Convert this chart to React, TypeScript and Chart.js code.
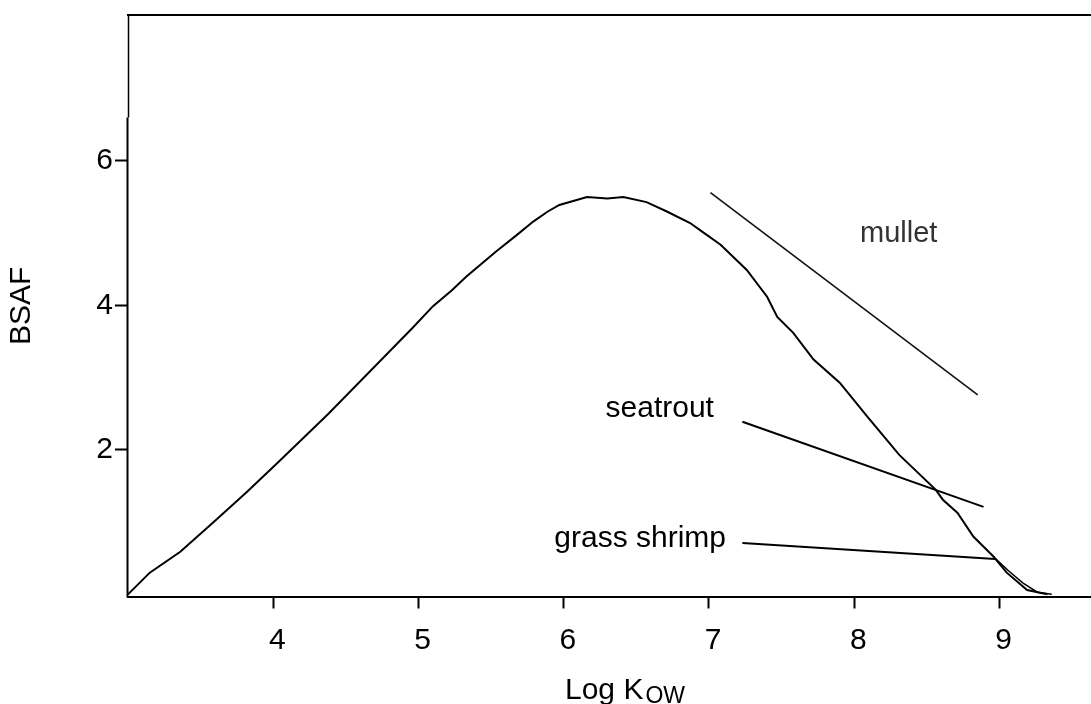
import React, { useEffect, useRef } from 'react';
import { Chart, registerables } from 'chart.js';

Chart.register(...registerables);

// ---- data ----
const xTickValues = [4, 5, 6, 7, 8, 9];
const yTickValues = [2, 4, 6];

const curveX = [3.0, 3.15, 3.36, 3.59, 3.82, 4.05, 4.38, 4.96, 5.1, 5.23, 5.33, 5.53, 5.68, 5.79, 5.89, 5.97, 6.16, 6.3, 6.41, 6.57, 6.71, 6.87, 6.96, 7.08, 7.26, 7.4, 7.47, 7.58, 7.72, 7.9, 8.09, 8.31, 8.56, 8.61, 8.71, 8.82, 8.96, 9.05, 9.19, 9.33];
const curveY = [0.0, 0.3, 0.59, 1.0, 1.42, 1.86, 2.5, 3.69, 3.99, 4.21, 4.4, 4.74, 4.98, 5.16, 5.3, 5.39, 5.5, 5.48, 5.5, 5.43, 5.3, 5.14, 5.01, 4.84, 4.49, 4.12, 3.84, 3.62, 3.25, 2.93, 2.46, 1.93, 1.45, 1.31, 1.13, 0.8, 0.52, 0.3, 0.06, 0.0];

const tailX = [8.97, 9.06, 9.16, 9.26, 9.36];
const tailY = [0.5, 0.33, 0.16, 0.03, 0.0];

const mulletX = [7.01, 8.85];
const mulletY = [5.56, 2.76];

const seatroutX = [7.23, 8.89];
const seatroutY = [2.39, 1.21];

const shrimpX = [7.23, 8.97];
const shrimpY = [0.71, 0.49];

const seriesLabels = ['mullet', 'seatrout', 'grass shrimp'];
const xTitle = 'Log K';
const xTitleSub = 'OW';
const yTitle = 'BSAF';

const FONT = '"Liberation Sans", Arial, Helvetica, sans-serif';

const pts = (xs: number[], ys: number[]) => xs.map((x, i) => ({ x, y: ys[i] }));

const framePlugin = {
  id: 'frame',
  afterDraw(chart: any) {
    const { ctx, chartArea, scales } = chart;
    const xs = scales.x;
    const ys = scales.y;
    ctx.save();
    ctx.strokeStyle = '#000';
    // top frame line
    ctx.lineWidth = 2;
    ctx.beginPath();
    ctx.moveTo(chartArea.left - 1, chartArea.top);
    ctx.lineTo(chartArea.right, chartArea.top);
    ctx.stroke();
    // thin upper part of left line
    const yBreak = ys.getPixelForValue(6.6);
    ctx.lineWidth = 1.5;
    ctx.beginPath();
    ctx.moveTo(chartArea.left + 0.5, chartArea.top);
    ctx.lineTo(chartArea.left + 0.5, yBreak);
    ctx.stroke();
    // thick y axis line
    ctx.lineWidth = 2;
    ctx.beginPath();
    ctx.moveTo(chartArea.left - 0.5, yBreak);
    ctx.lineTo(chartArea.left - 0.5, chartArea.bottom + 1);
    ctx.stroke();

    // annotations
    ctx.font = `29px ${FONT}`;
    ctx.fillStyle = '#333';
    ctx.textAlign = 'left';
    ctx.textBaseline = 'alphabetic';
    ctx.fillText(seriesLabels[0], xs.getPixelForValue(8.04), ys.getPixelForValue(4.88));

    ctx.font = `30px ${FONT}`;
    ctx.fillStyle = '#000';
    ctx.textAlign = 'right';
    ctx.fillText(seriesLabels[1], xs.getPixelForValue(7.034), ys.getPixelForValue(2.458));
    ctx.fillText(seriesLabels[2], xs.getPixelForValue(7.117), ys.getPixelForValue(0.656));

    // x axis title with subscript
    ctx.textAlign = 'left';
    ctx.font = `30px ${FONT}`;
    const tx = 565;
    const ty = 699;
    ctx.fillText(xTitle, tx, ty);
    const w = ctx.measureText(xTitle).width;
    ctx.font = `23px ${FONT}`;
    ctx.fillText(xTitleSub, tx + w + 2, ty + 4);
    ctx.restore();
  },
};

export default function App() {
  const ref = useRef<HTMLCanvasElement | null>(null);
  useEffect(() => {
    if (!ref.current) return;
    const line = (data: any[], width: number, color = '#000') => ({
      data,
      showLine: true,
      borderColor: color,
      borderWidth: width,
      pointRadius: 0,
      tension: 0,
      fill: false,
    });
    const chart = new Chart(ref.current, {
      type: 'scatter',
      data: {
        datasets: [
          line(pts(curveX, curveY), 2),
          line(pts(tailX, tailY), 1.5),
          line(pts(mulletX, mulletY), 1.6, '#111'),
          line(pts(seatroutX, seatroutY), 2),
          line(pts(shrimpX, shrimpY), 2),
        ] as any,
      },
      options: {
        animation: false,
        responsive: false,
        maintainAspectRatio: false,
        layout: { padding: { top: 15, left: 0, right: 0, bottom: 0 } },
        plugins: { legend: { display: false }, tooltip: { enabled: false } },
        font: { family: FONT },
        scales: {
          x: {
            type: 'linear',
            min: 3,
            max: 9.63,
            afterBuildTicks: (s: any) => {
              s.ticks = xTickValues.map((v) => ({ value: v }));
            },
            afterFit: (s: any) => {
              s.height = 107.5;
              s.paddingLeft = 0;
              s.paddingRight = 0;
              s.paddingTop = 0;
              s.paddingBottom = 0;
            },
            grid: { drawOnChartArea: false, drawTicks: true, tickLength: 12, tickWidth: 2, tickColor: '#000' },
            border: { display: true, width: 2, color: '#000' },
            ticks: { color: '#000', font: { size: 30, family: FONT }, padding: 14, labelOffset: 4, maxRotation: 0, autoSkip: false },
          },
          y: {
            type: 'linear',
            min: -0.03,
            max: 8.02,
            afterBuildTicks: (s: any) => {
              s.ticks = yTickValues.map((v) => ({ value: v }));
            },
            afterFit: (s: any) => {
              s.width = 128;
              s.paddingLeft = 0;
              s.paddingRight = 0;
              s.paddingTop = 0;
              s.paddingBottom = 0;
            },
            grid: { drawOnChartArea: false, drawTicks: true, tickLength: 13, tickWidth: 2, tickColor: '#000' },
            border: { display: false },
            ticks: { color: '#000', font: { size: 30, family: FONT }, padding: 2, autoSkip: false },
            title: { display: true, text: yTitle, color: '#000', font: { size: 30, family: FONT }, padding: { top: 4, bottom: 4 } },
          },
        },
      } as any,
      plugins: [framePlugin],
    });
    return () => chart.destroy();
  }, []);
  return (
    <div style={{ position: 'absolute', left: 0, top: 0, width: 1091, height: 704, background: '#fff' }}>
      <canvas ref={ref} width={1091} height={704} style={{ display: 'block', width: 1091, height: 704 }} />
    </div>
  );
}
